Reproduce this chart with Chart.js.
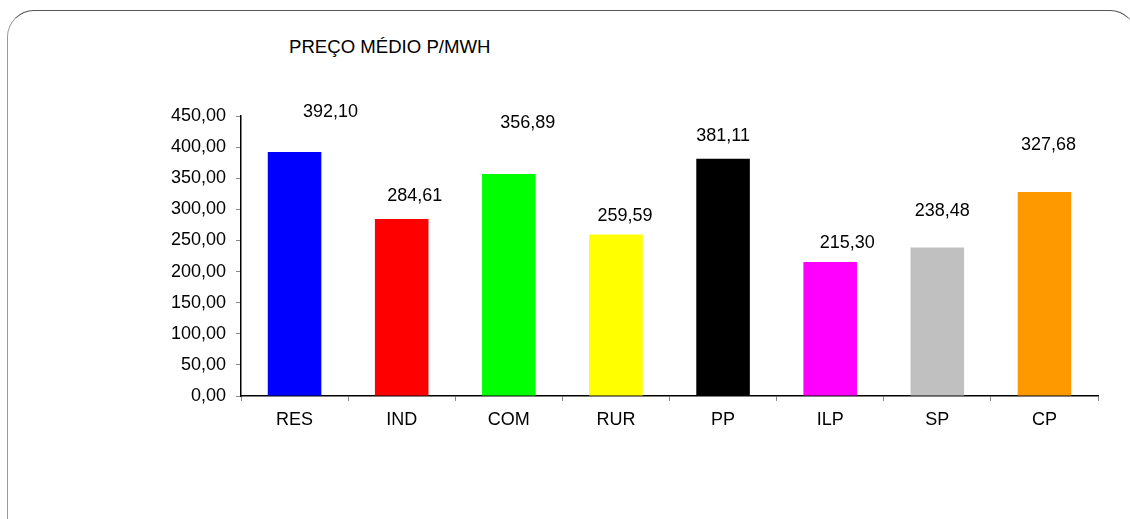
<!DOCTYPE html>
<html>
<head>
<meta charset="utf-8">
<script src="https://cdn.jsdelivr.net/npm/chart.js@4/dist/chart.umd.min.js"></script>
<style>
    html, body { margin: 0; padding: 0; background: #fff; overflow: hidden; }
    #wrap { position: relative; width: 1130px; height: 519px; }
    #frame {
        position: absolute; left: 7px; top: 10px; width: 1128px; height: 560px;
        border: 1px solid #999; border-top-color: #555; border-radius: 27px;
    }
    #title {
        position: absolute; left: 289px; top: 36px;
        font: 18.6px "Liberation Sans", Arial, sans-serif; color: #000;
    }
    canvas { position: absolute; left: 0; top: 0; }
</style>
</head>
<body>
<div id="wrap">
    <div id="frame"></div>
    <div id="title">PREÇO MÉDIO P/MWH</div>
    <canvas id="chart" width="1130" height="519"></canvas>
</div>
<script>
// dados
const categories = ['RES', 'IND', 'COM', 'RUR', 'PP', 'ILP', 'SP', 'CP'];
const prices = [392.10, 284.61, 356.89, 259.59, 381.11, 215.30, 238.48, 327.68];
const barColors = ['#0000FF', '#FF0000', '#00FF00', '#FFFF00', '#000000', '#FF00FF', '#C0C0C0', '#FF9900'];

// deslocamento dos rótulos (px) como no original
const labelDx = [36, 13, 19, 9, 0, 17, 5, 4];
const labelGap = [40, 23, 51, 18, 23, 19, 37, 47];

const FONT = '"Liberation Sans", Arial, sans-serif';

function fmt(v) {
    return v.toFixed(2).replace('.', ',');
}

const valueLabels = {
    id: 'valueLabels',
    afterDatasetsDraw(chart) {
        const ctx = chart.ctx;
        const meta = chart.getDatasetMeta(0);
        ctx.save();
        ctx.font = '18px ' + FONT;
        ctx.fillStyle = '#000';
        ctx.textAlign = 'center';
        ctx.textBaseline = 'middle';
        meta.data.forEach((bar, i) => {
            ctx.fillText(fmt(prices[i]), bar.x + labelDx[i], bar.y - labelGap[i]);
        });
        ctx.restore();
    }
};

new Chart(document.getElementById('chart').getContext('2d'), {
    type: 'bar',
    data: {
        labels: categories,
        datasets: [{
            data: prices,
            backgroundColor: barColors,
            borderWidth: 0,
            barPercentage: 0.5,
            categoryPercentage: 1.0
        }]
    },
    options: {
        responsive: false,
        animation: false,
        layout: { padding: { top: 116, right: 32, left: 0, bottom: 0 } },
        plugins: {
            legend: { display: false },
            tooltip: { enabled: false },
            title: { display: false }
        },
        scales: {
            x: {
                afterFit: s => { s.height = 123; },
                grid: { drawOnChartArea: false, drawTicks: true, tickLength: 5, color: '#888', offset: true },
                border: { color: '#000', width: 1.5 },
                ticks: { color: '#000', font: { family: FONT, size: 18 }, padding: 8 }
            },
            y: {
                min: 0,
                max: 450,
                afterFit: s => { s.width = 241; },
                grid: { drawOnChartArea: false, drawTicks: true, tickLength: 5, color: '#888' },
                border: { color: '#000', width: 1.5 },
                ticks: {
                    stepSize: 50,
                    color: '#000',
                    font: { family: FONT, size: 18 },
                    padding: 10,
                    callback: v => fmt(v)
                }
            }
        }
    },
    plugins: [valueLabels]
});
</script>
</body>
</html>
